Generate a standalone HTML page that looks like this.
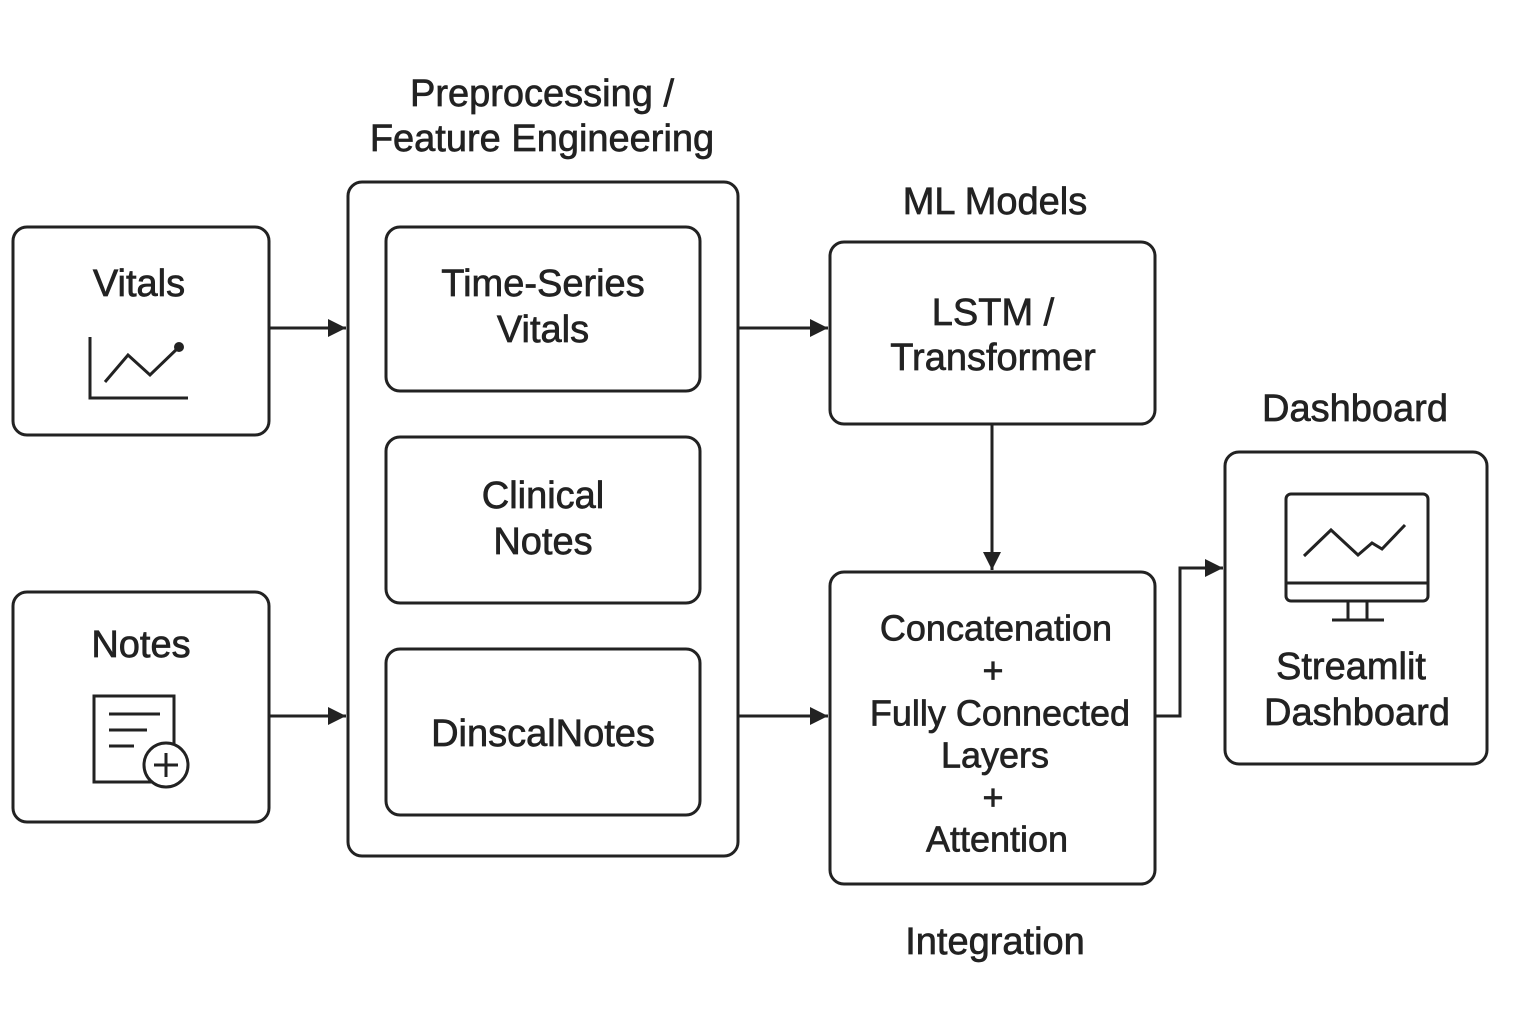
<!DOCTYPE html>
<html><head><meta charset="utf-8"><style>html,body{margin:0;padding:0;background:#fff}svg{display:block}text{font-family:"Liberation Sans",sans-serif;fill:#222;stroke:#222;stroke-width:0.7;text-anchor:middle;dominant-baseline:central}</style></head><body>
<svg width="1536" height="1024" viewBox="0 0 1536 1024" xmlns="http://www.w3.org/2000/svg">
<defs>
<marker id="b" viewBox="0 0 10 10" refX="10" refY="5" markerWidth="18" markerHeight="18" orient="auto" markerUnits="userSpaceOnUse"><path d="M0,0 L10,5 L0,10 z" fill="#222"/></marker></defs>
<g fill="none" stroke="#222" stroke-width="3">
<rect x="13" y="227" width="256" height="208" rx="14"/>
<rect x="13" y="592" width="256" height="230" rx="14"/>
<rect x="348" y="182" width="390" height="674" rx="14"/>
<rect x="386" y="227" width="314" height="164" rx="14"/>
<rect x="386" y="437" width="314" height="166" rx="14"/>
<rect x="386" y="649" width="314" height="166" rx="14"/>
<rect x="830" y="242" width="325" height="182" rx="14"/>
<rect x="830" y="572" width="325" height="312" rx="14"/>
<rect x="1225" y="452" width="262" height="312" rx="14"/>
<path d="M270 328H346" marker-end="url(#b)"/>
<path d="M270 716H346" marker-end="url(#b)"/>
<path d="M739 328H828" marker-end="url(#b)"/>
<path d="M739 716H828" marker-end="url(#b)"/>
<path d="M992 425V570" marker-end="url(#b)"/>
<path d="M1156 716H1180V568H1223" marker-end="url(#b)"/>
<path d="M90 337V398H188M105 382L128 355L150 375L179 347"/>
<path d="M94 696H174V782H94Z"/>
<path d="M109 714H160M109 730H147M109 746H134"/>
<circle cx="166" cy="765" r="22" fill="#fff"/>
<path d="M166 753V777M154 765H178"/>
<rect x="1286" y="494" width="142" height="107" rx="5"/>
<path d="M1286 583H1428M1348 601V620M1367 601V620M1332 620H1384"/>
<path d="M1304 556L1331 530L1358 555L1372 543L1382 549L1405 525"/>
</g>
<circle cx="179" cy="347" r="5" fill="#222"/>
<g font-size="38">
<text x="542" y="94">Preprocessing /</text>
<text x="542" y="139">Feature Engineering</text>
<text x="995" y="202">ML Models</text>
<text x="1355" y="409">Dashboard</text>
<text x="995" y="942">Integration</text>
<text x="139" y="284">Vitals</text>
<text x="141" y="645">Notes</text>
<text x="543" y="284">Time-Series</text>
<text x="543" y="330">Vitals</text>
<text x="543" y="496">Clinical</text>
<text x="543" y="542">Notes</text>
<text x="543" y="734">DinscalNotes</text>
<text x="993" y="313">LSTM /</text>
<text x="993" y="358">Transformer</text>
<text x="1351" y="667">Streamlit</text>
<text x="1357" y="713">Dashboard</text>
</g>
<g font-size="36">
<text x="996" y="628">Concatenation</text>
<text x="993" y="670">+</text>
<text x="1000" y="713">Fully Connected</text>
<text x="995" y="755">Layers</text>
<text x="993" y="797">+</text>
<text x="997" y="839">Attention</text>
</g>
</svg>
</body></html>
